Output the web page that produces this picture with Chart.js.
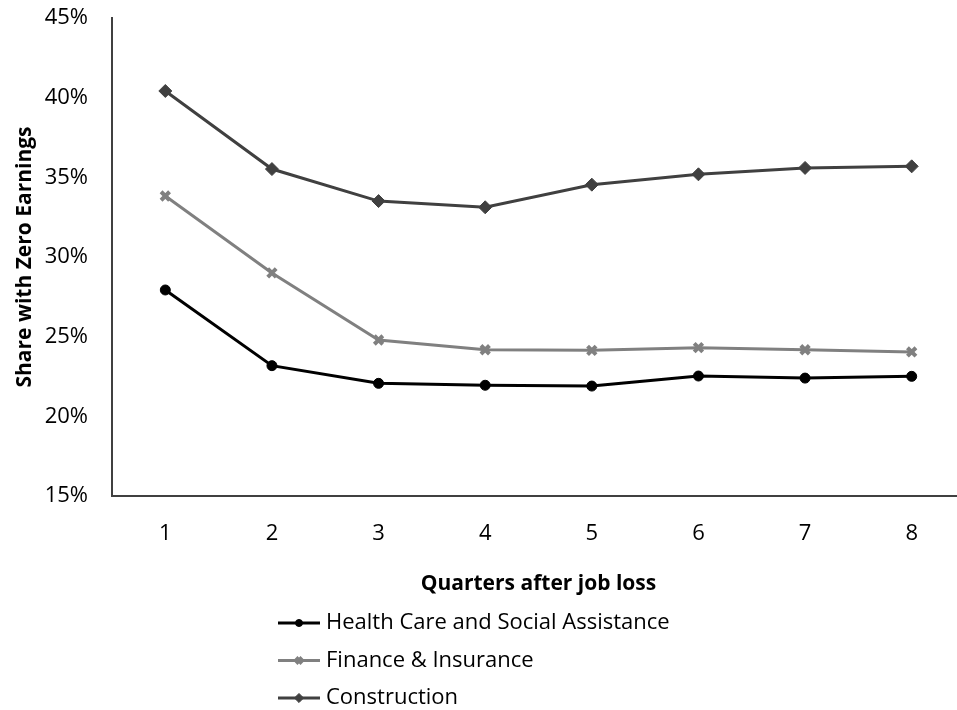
<!DOCTYPE html>
<html>
<head>
<meta charset="utf-8">
<title>Share with Zero Earnings</title>
<script src="https://cdn.jsdelivr.net/npm/chart.js"></script>
<style>
  html, body { margin: 0; padding: 0; background: #fff; overflow: hidden; }
  canvas { display: block; }
</style>
</head>
<body>
<canvas id="zeroChart" width="975" height="710"></canvas>
<script>
// Quarters after job loss
const quarters = ['1', '2', '3', '4', '5', '6', '7', '8'];

// Share with zero earnings (%), by industry of the lost job
const healthCare = [27.93, 23.18, 22.07, 21.95, 21.90, 22.53, 22.40, 22.51];
const finance = [33.83, 29.00, 24.79, 24.18, 24.14, 24.31, 24.18, 24.04];
const construction = [40.42, 35.52, 33.51, 33.12, 34.54, 35.19, 35.59, 35.69];

const seriesNames = ['Health Care and Social Assistance', 'Finance & Insurance', 'Construction'];

const FONT = '"Open Sans", Lato, sans-serif';
const FONT_SIZE = 22;
const TITLE_SIZE = 21;

// legend drawn as a vertical list under the axis title (line with marker in the middle)
const stackedLegend = {
  id: 'stackedLegend',
  afterDraw(chart) {
    const ctx = chart.ctx;
    const x0 = 278, x1 = 320, top = 623, gap = 37.5;
    ctx.save();
    chart.data.datasets.forEach((ds, i) => {
      const y = top + i * gap;
      ctx.strokeStyle = ds.borderColor;
      ctx.lineWidth = 3;
      ctx.beginPath();
      ctx.moveTo(x0, y);
      ctx.lineTo(x1, y);
      ctx.stroke();
      ctx.fillStyle = ds.pointBackgroundColor;
      ctx.strokeStyle = ds.pointBorderColor;
      ctx.lineWidth = ds.pointBorderWidth;
      Chart.helpers.drawPoint(ctx, {
        pointStyle: ds.pointStyle,
        radius: ds.pointRadius * 0.7,
        rotation: 0,
        borderWidth: ds.pointBorderWidth
      }, (x0 + x1) / 2, y);
      ctx.fillStyle = '#000';
      ctx.font = FONT_SIZE + 'px ' + FONT;
      ctx.textBaseline = 'middle';
      ctx.textAlign = 'left';
      ctx.fillText(ds.label, x1 + 6, y);
    });
    ctx.restore();
  }
};

const ctx = document.getElementById('zeroChart').getContext('2d');
new Chart(ctx, {
  type: 'line',
  data: {
    labels: quarters,
    datasets: [{
      label: seriesNames[0],
      data: healthCare,
      borderColor: '#000000',
      borderWidth: 3,
      pointStyle: 'circle',
      pointRadius: 5,
      pointBackgroundColor: '#000000',
      pointBorderColor: '#000000',
      pointBorderWidth: 1
    }, {
      label: seriesNames[1],
      data: finance,
      borderColor: '#808080',
      borderWidth: 3,
      pointStyle: 'crossRot',
      pointRadius: 6,
      pointBackgroundColor: '#808080',
      pointBorderColor: '#808080',
      pointBorderWidth: 4
    }, {
      label: seriesNames[2],
      data: construction,
      borderColor: '#404040',
      borderWidth: 3,
      pointStyle: 'rectRot',
      pointRadius: 6.5,
      pointBackgroundColor: '#404040',
      pointBorderColor: '#404040',
      pointBorderWidth: 1
    }]
  },
  options: {
    responsive: false,
    animation: false,
    devicePixelRatio: 1,
    layout: { padding: { left: 0, top: 18, right: 10, bottom: 0 } },
    elements: { line: { tension: 0 } },
    scales: {
      x: {
        offset: true,
        grid: { display: false, drawTicks: false },
        border: { display: true, color: '#404040', width: 2 },
        ticks: { color: '#000', padding: 25, font: { family: FONT, size: FONT_SIZE } },
        title: {
          display: true,
          text: 'Quarters after job loss',
          color: '#000',
          font: { family: FONT, size: TITLE_SIZE, weight: 'bold' },
          padding: { top: 0, bottom: 113 }
        },
        afterFit: scale => { scale.height = 214; }
      },
      y: {
        min: 15,
        max: 45,
        grid: { display: false, drawTicks: false },
        border: { display: true, color: '#404040', width: 2 },
        ticks: {
          stepSize: 5,
          color: '#000',
          padding: 24,
          font: { family: FONT, size: FONT_SIZE },
          callback: v => v + '%'
        },
        title: {
          display: true,
          text: 'Share with Zero Earnings',
          color: '#000',
          font: { family: FONT, size: TITLE_SIZE, weight: 'bold' },
          padding: { top: 12, bottom: 0 }
        },
        afterFit: scale => {
          scale.width = 112;
          scale.paddingTop = 0;
          scale.paddingBottom = 0;
        }
      }
    },
    plugins: {
      legend: { display: false },
      tooltip: { enabled: false }
    }
  },
  plugins: [stackedLegend]
});
</script>
</body>
</html>
